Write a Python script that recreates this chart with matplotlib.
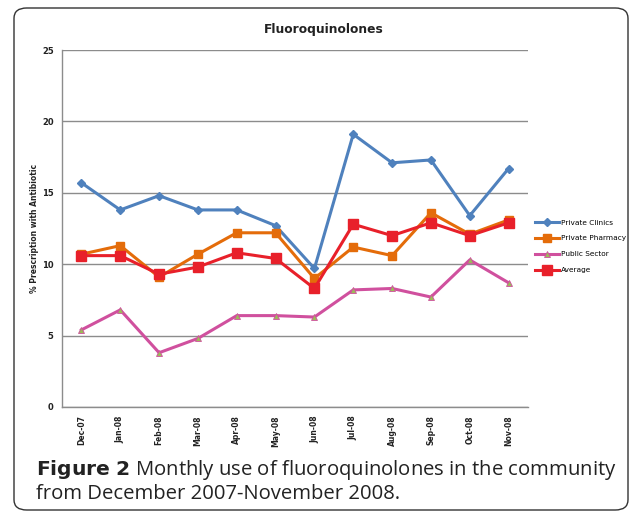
import numpy as np
import matplotlib
matplotlib.use('Agg')
import matplotlib.pyplot as plt
from matplotlib.patches import FancyBboxPatch

# Data
months = ['Dec-07', 'Jan-08', 'Feb-08', 'Mar-08', 'Apr-08', 'May-08',
          'Jun-08', 'Jul-08', 'Aug-08', 'Sep-08', 'Oct-08', 'Nov-08']
private_clinics = [15.7, 13.8, 14.8, 13.8, 13.8, 12.7, 9.7, 19.1, 17.1, 17.3, 13.4, 16.7]
private_pharmacy = [10.7, 11.3, 9.1, 10.7, 12.2, 12.2, 9.0, 11.2, 10.6, 13.6, 12.1, 13.1]
public_sector = [5.4, 6.8, 3.8, 4.8, 6.4, 6.4, 6.3, 8.2, 8.3, 7.7, 10.3, 8.7]
average = [10.6, 10.6, 9.3, 9.8, 10.8, 10.4, 8.3, 12.8, 12.0, 12.9, 12.0, 12.9]
yticks = [0, 5, 10, 15, 20, 25]

fig = plt.figure(figsize=(6.34, 5.14), dpi=100)

# rounded frame round the whole figure
frame = FancyBboxPatch((14 / 634, 4 / 514), 614 / 634, 502 / 514,
                       boxstyle='round,pad=0,rounding_size=0.02',
                       transform=fig.transFigure, fill=False,
                       edgecolor='#333333', linewidth=1.0)
fig.patches.append(frame)

ax = fig.add_axes([62 / 634, 1 - 407 / 514, 466 / 634, 357 / 514])
x = np.arange(len(months))

ax.plot(x, private_clinics, color='#4F81BD', lw=2.2, marker='D', ms=4,
        label='Private Clinics')
ax.plot(x, private_pharmacy, color='#E46C0A', lw=2.2, marker='s', ms=6,
        label='Private Pharmacy')
ax.plot(x, public_sector, color='#D0509E', lw=2.2, marker='^', ms=5,
        markerfacecolor='#9BBB59', markeredgecolor='#D0509E', mew=0.6,
        label='Public Sector')
ax.plot(x, average, color='#E8202A', lw=2.2, marker='s', ms=7,
        label='Average')

ax.set_xlim(-0.5, 11.5)
ax.set_ylim(0, 25)
ax.set_yticks(yticks)
ax.set_yticklabels([str(v) for v in yticks], fontsize=6, fontweight='bold',
                   color='#222222')
ax.set_xticks(x)
ax.set_xticklabels(months, rotation=90, fontsize=5.5, fontweight='bold',
                   color='#222222')
ax.tick_params(length=0, pad=6)
ax.yaxis.grid(True, color='#8c8c8c', lw=1.0)
ax.set_axisbelow(True)
for s in ['top', 'right']:
    ax.spines[s].set_visible(False)
for s in ['left', 'bottom']:
    ax.spines[s].set_color('#8c8c8c')
    ax.spines[s].set_linewidth(1.0)

ax.set_ylabel('% Prescription with Antibiotic', fontsize=5.5,
              fontweight='bold', color='#222222', labelpad=2)

fig.text(324 / 634, 1 - 30 / 514, 'Fluoroquinolones', ha='center',
         va='center', fontsize=8.8, fontweight='bold', color='#222222')

ax.legend(loc='center left', bbox_to_anchor=(1.0, 0.45), frameon=False,
          fontsize=5.3, handlelength=3.2, labelspacing=1.32,
          handletextpad=0.3, borderaxespad=0.6)

fig.text(36 / 634, 1 - 470 / 514, r'$\bf{Figure\ 2}$ Monthly use of fluoroquinolones in the community',
         fontsize=14.6, va='center', ha='left', color='#222222',
         family='Open Sans')
fig.text(36 / 634, 1 - 494 / 514, 'from December 2007-November 2008.',
         fontsize=14.6, va='center', ha='left', color='#222222',
         family='Open Sans')

fig.savefig('out.png', dpi=100)
